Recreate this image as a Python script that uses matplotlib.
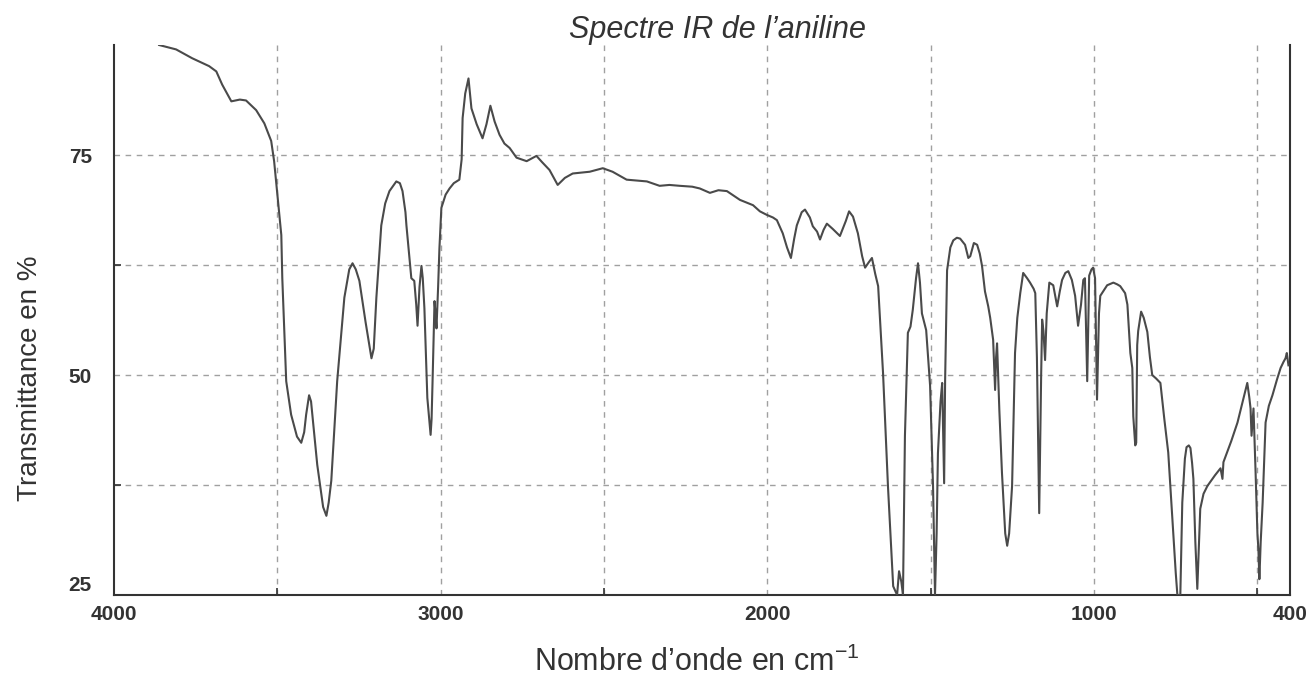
import matplotlib
matplotlib.use("Agg")
import matplotlib.pyplot as plt

plt.rcParams['font.family'] = ['Liberation Sans', 'DejaVu Sans']
plt.rcParams['mathtext.fontset'] = 'custom'
plt.rcParams['mathtext.rm'] = 'Liberation Sans'

# spectre (nombre d'onde en cm-1, transmittance en %)
wavenumber = [
    3862, 3810, 3761, 3709, 3687, 3669, 3641, 3615, 3596, 3565, 3540, 3519, 3510, 3500,
    3494, 3488, 3485, 3480, 3473, 3458, 3440, 3427, 3418, 3412, 3403, 3397, 3393, 3378,
    3360, 3350, 3343, 3335, 3317, 3295, 3280, 3270, 3260, 3249, 3230, 3212, 3205, 3197,
    3182, 3170, 3157, 3136, 3125, 3117, 3108, 3105, 3095, 3090, 3081, 3075, 3071, 3065,
    3059, 3055, 3050, 3041, 3031, 3028, 3025, 3019, 3016, 3013, 3008, 3004, 2998, 2985,
    2973, 2960, 2943, 2936, 2933, 2925, 2915, 2906, 2890, 2872, 2860, 2848, 2835, 2820,
    2805, 2789, 2768, 2737, 2707, 2690, 2667, 2642, 2620, 2596, 2570, 2544, 2504, 2474,
    2431, 2400, 2369, 2330, 2300, 2268, 2230, 2207, 2176, 2150, 2124, 2084, 2044, 2023,
    2002, 1983, 1971, 1953, 1940, 1928, 1918, 1910, 1895, 1885, 1870, 1861, 1848, 1839,
    1828, 1818, 1800, 1778, 1760, 1750, 1738, 1723, 1710, 1701, 1690, 1680, 1670, 1661,
    1646, 1631, 1615, 1603, 1597, 1590, 1585, 1579, 1570, 1562, 1555, 1545, 1539, 1533,
    1527, 1514, 1502, 1493, 1487, 1482, 1478, 1470, 1465, 1459, 1456, 1450, 1440, 1431,
    1420, 1410, 1395, 1385, 1379, 1368, 1358, 1350, 1343, 1334, 1324, 1318, 1309, 1303,
    1300, 1297, 1290, 1282, 1272, 1266, 1260, 1251, 1242, 1235, 1226, 1217, 1205, 1196,
    1185, 1180, 1175, 1168, 1162, 1159, 1155, 1150, 1145, 1137, 1125, 1113, 1105, 1098,
    1088, 1079, 1068, 1058, 1049, 1040, 1033, 1028, 1021, 1015, 1008, 1003, 997, 991,
    985, 981, 960, 941, 929, 920, 905, 898, 889, 883, 880, 874, 871, 868,
    865, 856, 848, 837, 829, 822, 810, 797, 785, 773, 757, 750, 745, 736,
    730, 722, 717, 710, 705, 700, 696, 690, 684, 678, 675, 665, 653, 630,
    613, 607, 604, 580, 561, 545, 531, 525, 521, 518, 512, 506, 500, 497,
    494, 490, 484, 475, 465, 454, 440, 429, 420, 414, 410, 405,
]
transmittance = [
    87.5, 87.0, 86.0, 85.1, 84.5, 83.0, 81.1, 81.3, 81.2, 80.1, 78.6, 76.6, 74.3, 70.5,
    68.2, 65.9, 61.0, 56.0, 49.3, 45.5, 43.0, 42.3, 43.5, 45.5, 47.7, 47.0, 45.5, 39.8,
    35.0, 34.0, 35.5, 38.0, 49.3, 58.8, 62.0, 62.7, 62.0, 60.7, 56.0, 51.9, 53.0, 58.8,
    67.0, 69.5, 70.9, 72.0, 71.8, 70.9, 68.5, 67.0, 63.0, 61.0, 60.7, 58.0, 55.6, 60.0,
    62.4, 61.0, 57.6, 47.4, 43.2, 45.0, 49.3, 58.4, 57.0, 55.3, 60.0, 64.4, 69.0, 70.5,
    71.2, 71.8, 72.2, 74.5, 79.2, 82.0, 83.7, 80.3, 78.5, 76.9, 78.5, 80.6, 78.8, 77.3,
    76.3, 75.8, 74.7, 74.3, 74.9, 74.2, 73.3, 71.6, 72.4, 72.9, 73.0, 73.1, 73.5, 73.1,
    72.2, 72.1, 72.0, 71.5, 71.6, 71.5, 71.4, 71.2, 70.7, 71.0, 70.9, 69.9, 69.3, 68.6,
    68.2, 67.9, 67.6, 66.1, 64.5, 63.3, 65.5, 67.0, 68.5, 68.8, 67.9, 66.9, 66.3, 65.4,
    66.5, 67.2, 66.6, 65.8, 67.5, 68.6, 68.0, 66.1, 63.5, 62.2, 62.8, 63.3, 61.5, 60.1,
    50.2, 37.4, 26.0, 25.0, 27.7, 26.5, 25.0, 43.1, 54.8, 55.5, 57.4, 61.0, 62.7, 60.5,
    57.0, 55.1, 48.8, 37.4, 25.0, 32.0, 41.1, 47.0, 49.1, 37.7, 49.4, 61.9, 64.5, 65.3,
    65.6, 65.5, 64.8, 63.3, 63.5, 65.0, 64.8, 63.8, 62.4, 59.5, 57.8, 56.5, 54.0, 48.3,
    52.0, 53.6, 46.0, 38.9, 32.0, 30.6, 32.0, 37.4, 52.5, 56.5, 59.3, 61.6, 61.0, 60.5,
    59.8, 59.3, 52.0, 34.3, 50.0, 56.3, 55.0, 51.7, 57.0, 60.5, 60.2, 57.8, 59.5, 60.8,
    61.6, 61.8, 60.8, 59.0, 55.6, 58.0, 60.8, 61.0, 49.3, 61.3, 62.0, 62.2, 61.0, 47.2,
    57.0, 59.0, 60.2, 60.5, 60.3, 60.1, 59.3, 58.0, 52.5, 50.8, 45.3, 42.0, 42.3, 53.4,
    55.0, 57.2, 56.5, 54.9, 52.0, 50.0, 49.6, 49.1, 45.0, 41.2, 31.7, 27.5, 25.0, 25.0,
    35.5, 40.5, 41.8, 42.0, 41.7, 40.0, 38.2, 31.0, 25.7, 32.0, 34.8, 36.5, 37.4, 38.6,
    39.4, 38.2, 40.1, 42.5, 44.6, 47.0, 49.1, 47.5, 46.2, 43.1, 46.2, 39.4, 32.0, 30.2,
    26.8, 31.0, 35.5, 44.6, 46.5, 47.7, 49.5, 50.8, 51.5, 51.9, 52.5, 51.1,
]

x_ticks = [4000, 3000, 2000, 1000, 400]
y_ticks = [25, 50, 75]
x_grid = [3500, 3000, 2500, 2000, 1500, 1000, 500]
y_grid = [37.5, 50, 62.5, 75]

fig = plt.figure(figsize=(13.14, 6.77), dpi=100)
ax = fig.add_axes([0.0868, 0.1211, 0.8950, 0.8124])

for g in x_grid:
    ax.axvline(g, color='#a0a0a0', lw=1.0, ls=(0, (4, 4)), zorder=1)
for g in y_grid:
    ax.axhline(g, color='#a0a0a0', lw=1.0, ls=(0, (4, 4)), zorder=1)

ax.plot(wavenumber, transmittance, color='#4a4a4a', lw=1.5, zorder=3)

ax.set_xlim(4000, 400)
ax.set_ylim(25, 87.5)

ax.spines['top'].set_visible(False)
for s in ['left', 'bottom', 'right']:
    ax.spines[s].set_color('#333333')
    ax.spines[s].set_linewidth(1.5)

ax.set_xticks(x_ticks)
ax.set_xticklabels([str(v) for v in x_ticks])
ax.set_xticks(x_grid, minor=True)
ax.set_yticks(y_ticks)
ax.set_yticklabels([str(v) for v in y_ticks])
ax.set_yticks(y_grid, minor=True)
ax.tick_params(which='both', direction='in', color='#333333', length=5, width=1.2)
ax.tick_params(axis='x', which='major', length=0, pad=7)
ax.tick_params(axis='y', which='major', length=0, pad=16)
ax.tick_params(labelsize=15, labelcolor='#333333')
for lab in ax.get_xticklabels() + ax.get_yticklabels():
    lab.set_fontweight('bold')
for lab in ax.get_yticklabels():
    if lab.get_text() == '25':
        lab.set_va('bottom')

fig.text(0.023, 0.442, 'Transmittance en %', fontsize=20, color='#333333',
         rotation=90, ha='center', va='center')
fig.text(0.53, 0.022, 'Nombre d’onde en cm$^{\\mathregular{-1}}$', fontsize=22,
         color='#333333', ha='center', va='center')
fig.text(0.546, 0.956, 'Spectre IR de l’aniline', fontsize=22, style='italic',
         color='#333333', ha='center', va='center')

fig.savefig('out.png', dpi=100)
